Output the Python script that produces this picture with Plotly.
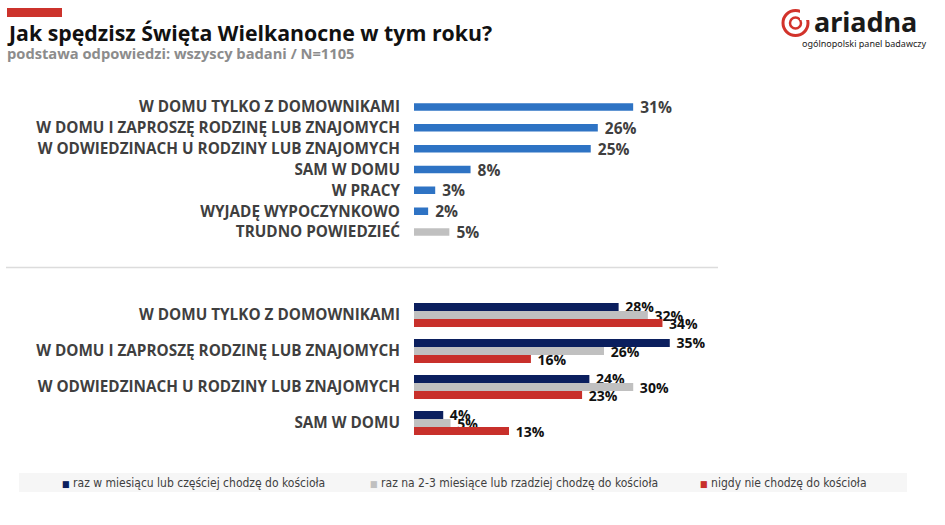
import plotly.graph_objects as go

W, H = 945, 525

# dane - wszyscy badani
top_cats = ['W DOMU TYLKO Z DOMOWNIKAMI', 'W DOMU I ZAPROSZĘ RODZINĘ LUB ZNAJOMYCH',
            'W ODWIEDZINACH U RODZINY LUB ZNAJOMYCH', 'SAM W DOMU', 'W PRACY',
            'WYJADĘ WYPOCZYNKOWO', 'TRUDNO POWIEDZIEĆ']
top_vals = [31, 26, 25, 8, 3, 2, 5]

# dane - wg chodzenia do kościoła
bot_cats = ['W DOMU TYLKO Z DOMOWNIKAMI', 'W DOMU I ZAPROSZĘ RODZINĘ LUB ZNAJOMYCH',
            'W ODWIEDZINACH U RODZINY LUB ZNAJOMYCH', 'SAM W DOMU']
grp_names = ['raz w miesiącu lub częściej chodzę do kościoła',
             'raz na 2-3 miesiące lub rzadziej chodzę do kościoła',
             'nigdy nie chodzę do kościoła']
grp_often = [28, 35, 24, 4]
grp_rare = [32, 26, 30, 5]
grp_never = [34, 16, 23, 13]

BLUE = '#2e73c4'
GRAY = '#c0c0c0'
NAVY = '#0b1f5e'
RED = '#c8302b'
LBL = '#3f3f3f'
FONT = 'Open Sans'
COND = "'DejaVu Sans Condensed', 'Liberation Sans Narrow', 'Roboto Condensed', sans-serif"


def px(x):
    return x / W


def py(y):
    return 1 - y / H


fig = go.Figure()

top_colors = [GRAY if c == 'TRUDNO POWIEDZIEĆ' else BLUE for c in top_cats]
fig.add_trace(go.Bar(
    x=top_vals, y=top_cats, orientation='h',
    marker=dict(color=top_colors, line=dict(width=0)),
    width=0.36,
    texttemplate='\u00a0%{x}%', textposition='outside',
    constraintext='none', cliponaxis=False,
    textfont=dict(family=FONT, size=15.5, color=LBL, weight='bold'),
    xaxis='x', yaxis='y', showlegend=False, hoverinfo='skip'))

for vals, col, nm in zip([grp_often, grp_rare, grp_never], [NAVY, GRAY, RED], grp_names):
    fig.add_trace(go.Bar(
        x=vals, y=bot_cats, orientation='h', name=nm,
        marker=dict(color=col, line=dict(width=0)),
        texttemplate='\u00a0%{x}%', textposition='outside',
        constraintext='none', cliponaxis=False,
        textfont=dict(family=FONT, size=14, color='#111111', weight='bold'),
        xaxis='x2', yaxis='y2', showlegend=False, hoverinfo='skip'))

xdom = [px(414), px(718)]
tickfont = dict(family=FONT, size=15.3, color=LBL, weight='bold')

fig.update_layout(
    width=W, height=H,
    margin=dict(l=0, r=0, t=0, b=0),
    paper_bgcolor='white', plot_bgcolor='white',
    barmode='group', bargap=0.333, bargroupgap=0,
    xaxis=dict(domain=xdom, range=[0, 43], visible=False),
    yaxis=dict(domain=[py(242.5), py(96.5)], autorange='reversed', anchor='x',
               showgrid=False, showline=False, zeroline=False, ticks='',
               ticklabelstandoff=13, tickfont=tickfont),
    xaxis2=dict(domain=xdom, range=[0, 41.6], visible=False, anchor='y2'),
    yaxis2=dict(domain=[py(441), py(297)], autorange='reversed', anchor='x2',
                showgrid=False, showline=False, zeroline=False, ticks='',
                ticklabelstandoff=13, tickfont=tickfont),
)

shapes = [
    # czerwony pasek nad tytułem
    dict(type='rect', xref='paper', yref='paper', x0=px(7), x1=px(62), y0=py(17), y1=py(8),
         fillcolor='#cc332c', line=dict(width=0)),
    # linia oddzielająca
    dict(type='line', xref='paper', yref='paper', x0=px(6), x1=px(718), y0=py(267.5), y1=py(267.5),
         line=dict(color='#dcdcdc', width=1.5)),
    # tło legendy
    dict(type='rect', xref='paper', yref='paper', x0=px(19), x1=px(907), y0=py(492), y1=py(473),
         fillcolor='#f6f6f6', line=dict(width=0), layer='below'),
    # logo - kółka
    dict(type='circle', xref='paper', yref='paper', x0=px(783), x1=px(808), y0=py(35.5), y1=py(10.5),
         line=dict(color='#d2332b', width=3)),
    dict(type='circle', xref='paper', yref='paper', x0=px(790), x1=px(801), y0=py(28.5), y1=py(17.5),
         line=dict(color='#d2332b', width=2.5)),
    dict(type='rect', xref='paper', yref='paper', x0=px(800), x1=px(810), y0=py(20), y1=py(9),
         fillcolor='white', line=dict(width=0)),
]

annotations = [
    dict(text='<b>Jak spędzisz Święta Wielkanocne w tym roku?</b>', x=px(5), y=py(33),
         xanchor='left', yanchor='middle', font=dict(family=FONT, size=21.3, color='#111111')),
    dict(text='<b>podstawa odpowiedzi: wszyscy badani / N=1105</b>', x=px(5), y=py(53),
         xanchor='left', yanchor='middle', font=dict(family=FONT, size=14.7, color='#8c8c8c')),
    dict(text='<b>ariadna</b>', x=px(812), y=py(22), xanchor='left', yanchor='middle',
         font=dict(family='Noto Sans', size=27, color='#1a1a1a')),
    dict(text='ogólnopolski panel badawczy', x=px(929), y=py(43), xanchor='right', yanchor='middle',
         font=dict(family='Noto Sans', size=9, color='#1a1a1a')),
]

leg_x = [60, 368, 698]
for nm, col, lx in zip(grp_names, [NAVY, GRAY, RED], leg_x):
    annotations.append(dict(
        text=f'<span style="color:{col};font-size:9px">■</span> {nm}',
        x=px(lx), y=py(483), xanchor='left', yanchor='middle',
        font=dict(family=COND, size=12, color='#404040')))

for a in annotations:
    a.update(xref='paper', yref='paper', showarrow=False)

fig.update_layout(shapes=shapes, annotations=annotations)

fig.write_html('out.html', config={'displayModeBar': False},
               post_script="document.body.style.margin='0';")
